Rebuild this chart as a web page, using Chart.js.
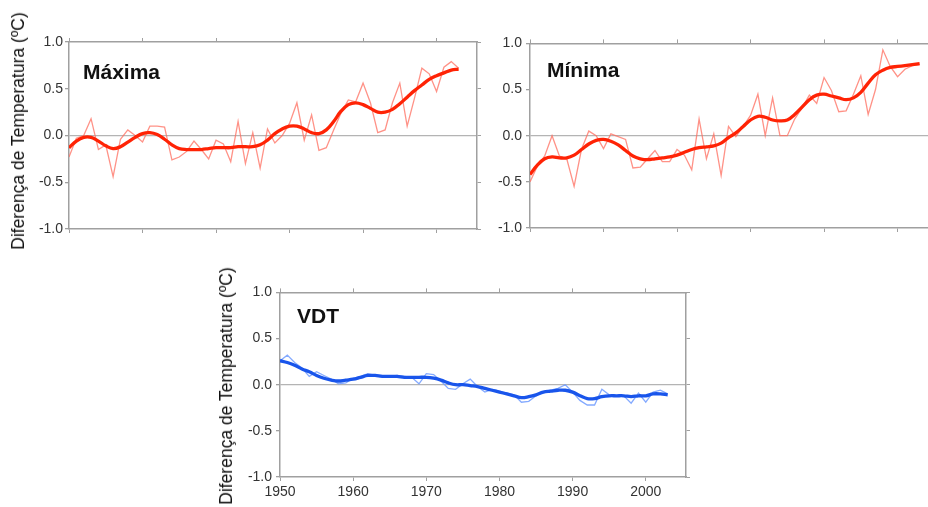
<!DOCTYPE html>
<html>
<head>
<meta charset="utf-8">
<script src="https://cdn.jsdelivr.net/npm/chart.js@4.4.1/dist/chart.umd.min.js"></script>
<style>
  body { margin: 0; width: 928px; height: 507px; overflow: hidden; background: #fff; position: relative; font-family: "Liberation Sans", Arial, sans-serif; }
  .box { position: absolute; }
  .lbl { position: absolute; font-weight: bold; font-size: 21px; color: #111; line-height: 24px; }
  .ytitle { position: absolute; white-space: nowrap; font-size: 17.5px; color: #111; line-height: 20px;
            transform: translate(-50%, -50%) rotate(-90deg); }
</style>
</head>
<body>
<div class="box" style="left:0;top:30px;width:481px;height:212px"><canvas id="maxChart"></canvas></div>
<div class="box" style="left:470px;top:31px;width:472px;height:210px"><canvas id="minChart"></canvas></div>
<div class="box" style="left:205px;top:280px;width:485px;height:227px"><canvas id="vdtChart"></canvas></div>
<div class="lbl" style="left:83px;top:60px">Máxima</div>
<div class="lbl" style="left:547px;top:58px">Mínima</div>
<div class="lbl" style="left:297px;top:304px">VDT</div>
<div class="ytitle" style="left:18px;top:131px">Diferença de Temperatura (ºC)</div>
<div class="ytitle" style="left:226px;top:386px">Diferença de Temperatura (ºC)</div>
<script>
const years = [1950,1951,1952,1953,1954,1955,1956,1957,1958,1959,
  1960,1961,1962,1963,1964,1965,1966,1967,1968,1969,
  1970,1971,1972,1973,1974,1975,1976,1977,1978,1979,
  1980,1981,1982,1983,1984,1985,1986,1987,1988,1989,
  1990,1991,1992,1993,1994,1995,1996,1997,1998,1999,
  2000,2001,2002,2003];
const yTicks = [-1.0, -0.5, 0.0, 0.5, 1.0];

// Máxima: annual anomaly and smoothed curve
const maxAnnual = [-0.23,-0.03,0.0,0.18,-0.15,-0.10,-0.44,-0.04,0.06,0.0,
  -0.07,0.10,0.10,0.09,-0.26,-0.23,-0.17,-0.06,-0.15,-0.25,
  -0.05,-0.09,-0.28,0.15,-0.30,0.03,-0.35,0.07,-0.08,0.0,
  0.13,0.35,-0.05,0.22,-0.16,-0.13,0.06,0.24,0.38,0.36,
  0.56,0.35,0.03,0.06,0.35,0.56,0.10,0.40,0.72,0.66,
  0.47,0.73,0.79,0.72];
const maxSmooth = [-0.13,-0.06,-0.02,-0.02,-0.06,-0.11,-0.14,-0.12,-0.07,-0.02,
  0.02,0.03,0.01,-0.04,-0.10,-0.14,-0.15,-0.15,-0.15,-0.14,
  -0.13,-0.13,-0.13,-0.12,-0.12,-0.12,-0.10,-0.05,0.02,0.07,
  0.10,0.10,0.07,0.03,0.02,0.06,0.15,0.26,0.33,0.35,
  0.33,0.29,0.25,0.25,0.28,0.34,0.41,0.48,0.54,0.60,
  0.64,0.67,0.70,0.71];

// Mínima
const minAnnual = [-0.50,-0.33,-0.22,0.0,-0.22,-0.25,-0.55,-0.15,0.05,0.0,
  -0.14,0.02,-0.01,-0.04,-0.35,-0.34,-0.25,-0.16,-0.28,-0.28,
  -0.15,-0.21,-0.37,0.18,-0.25,0.02,-0.43,0.10,-0.01,0.10,
  0.22,0.45,0.0,0.41,0.0,0.0,0.18,0.30,0.44,0.35,
  0.63,0.49,0.26,0.27,0.45,0.65,0.23,0.50,0.93,0.75,
  0.64,0.72,0.76,0.77];
const minSmooth = [-0.42,-0.32,-0.25,-0.23,-0.24,-0.24,-0.21,-0.15,-0.09,-0.05,
  -0.04,-0.06,-0.10,-0.16,-0.22,-0.25,-0.26,-0.25,-0.24,-0.23,
  -0.21,-0.18,-0.15,-0.13,-0.12,-0.11,-0.08,-0.02,0.03,0.10,
  0.17,0.21,0.20,0.17,0.16,0.17,0.23,0.31,0.39,0.44,
  0.45,0.43,0.41,0.39,0.41,0.47,0.57,0.66,0.71,0.74,
  0.75,0.76,0.77,0.78];

// VDT
const vdtAnnual = [0.26,0.32,0.24,0.18,0.09,0.14,0.10,0.06,0.01,0.02,
  0.07,0.09,0.12,0.10,0.08,0.09,0.10,0.09,0.08,0.01,
  0.12,0.11,0.04,-0.04,-0.05,0.01,0.06,-0.02,-0.08,-0.05,
  -0.07,-0.09,-0.11,-0.19,-0.18,-0.12,-0.08,-0.06,-0.04,0.0,
  -0.08,-0.17,-0.22,-0.22,-0.05,-0.11,-0.12,-0.12,-0.20,-0.09,
  -0.19,-0.08,-0.06,-0.10];
const vdtSmooth = [0.26,0.24,0.21,0.17,0.14,0.10,0.07,0.05,0.04,0.05,
  0.06,0.08,0.10,0.10,0.09,0.09,0.09,0.08,0.08,0.08,
  0.08,0.07,0.05,0.02,0.0,0.0,-0.01,-0.02,-0.04,-0.06,
  -0.08,-0.10,-0.12,-0.14,-0.13,-0.11,-0.08,-0.07,-0.06,-0.06,
  -0.08,-0.12,-0.15,-0.15,-0.13,-0.12,-0.12,-0.12,-0.13,-0.12,
  -0.12,-0.10,-0.10,-0.11];

const frame = '#a0a0a0';
const tickFont = { family: '"Liberation Sans", Arial, sans-serif', size: 14 };

function pts(vals) {
  return years.map((yr, i) => ({ x: yr, y: vals[i] }));
}

function drawPanel(id, p) {
  const ctx = document.getElementById(id).getContext('2d');
  return new Chart(ctx, {
    type: 'line',
    data: {
      datasets: [
        { data: pts(p.smooth), borderColor: p.thick, borderWidth: 3.3, tension: 0.4, pointRadius: 0, fill: false },
        { data: pts(p.annual), borderColor: p.thin, borderWidth: 1.3, tension: 0, pointRadius: 0, fill: false }
      ]
    },
    options: {
      responsive: true,
      maintainAspectRatio: false,
      animation: false,
      events: [],
      layout: { padding: { top: 12, right: 4, left: 0, bottom: 0 } },
      plugins: { legend: { display: false }, tooltip: { enabled: false } },
      scales: {
        x: {
          type: 'linear', position: 'bottom', min: 1950, max: 2005.5,
          ticks: { display: p.xLabels, stepSize: 10, includeBounds: false, maxRotation: 0,
                   padding: 3, color: '#333', font: tickFont, callback: v => String(v) },
          grid: { drawOnChartArea: false, tickLength: 4, tickColor: frame },
          border: { color: frame, width: 1.5 },
          afterFit: s => { s.height = p.xHeight; }
        },
        x2: {
          type: 'linear', position: 'top', min: 1950, max: 2005.5,
          ticks: { display: false, stepSize: 10, includeBounds: false },
          grid: { drawOnChartArea: false, tickLength: 4, tickColor: frame },
          border: { color: frame, width: 1.5 },
          afterFit: s => { s.height = 0; }
        },
        y: {
          min: -1, max: 1,
          afterBuildTicks: s => { s.ticks = yTicks.map(v => ({ value: v })); },
          ticks: { padding: p.yPad, color: '#333', font: tickFont, callback: v => v.toFixed(1) },
          grid: {
            tickLength: 4, tickColor: frame, lineWidth: 1.3,
            color: c => (c.tick && c.tick.value === 0) ? '#b4b4b4' : 'rgba(0,0,0,0)'
          },
          border: { color: frame, width: 1.5 },
          afterFit: s => { s.width = p.yWidth; }
        },
        y2: {
          position: 'right', min: -1, max: 1,
          afterBuildTicks: s => { s.ticks = yTicks.map(v => ({ value: v })); },
          ticks: { display: false },
          grid: { drawOnChartArea: false, tickLength: 4, tickColor: frame },
          border: { color: frame, width: 1.5 },
          afterFit: s => { s.width = 0; }
        }
      }
    }
  });
}

window.onload = (event) => {
  drawPanel('maxChart', {
    annual: maxAnnual, smooth: maxSmooth,
    thin: 'rgba(255,110,95,0.75)', thick: 'rgb(255,35,5)',
    yWidth: 69, yPad: 2, xLabels: false, xHeight: 13
  });
  drawPanel('minChart', {
    annual: minAnnual, smooth: minSmooth,
    thin: 'rgba(255,110,95,0.75)', thick: 'rgb(255,35,5)',
    yWidth: 60, yPad: 4, xLabels: false, xHeight: 13
  });
  drawPanel('vdtChart', {
    annual: vdtAnnual, smooth: vdtSmooth,
    thin: 'rgba(110,155,255,0.85)', thick: 'rgb(25,85,235)',
    yWidth: 75, yPad: 4, xLabels: true, xHeight: 30
  });
};
</script>
</body>
</html>
